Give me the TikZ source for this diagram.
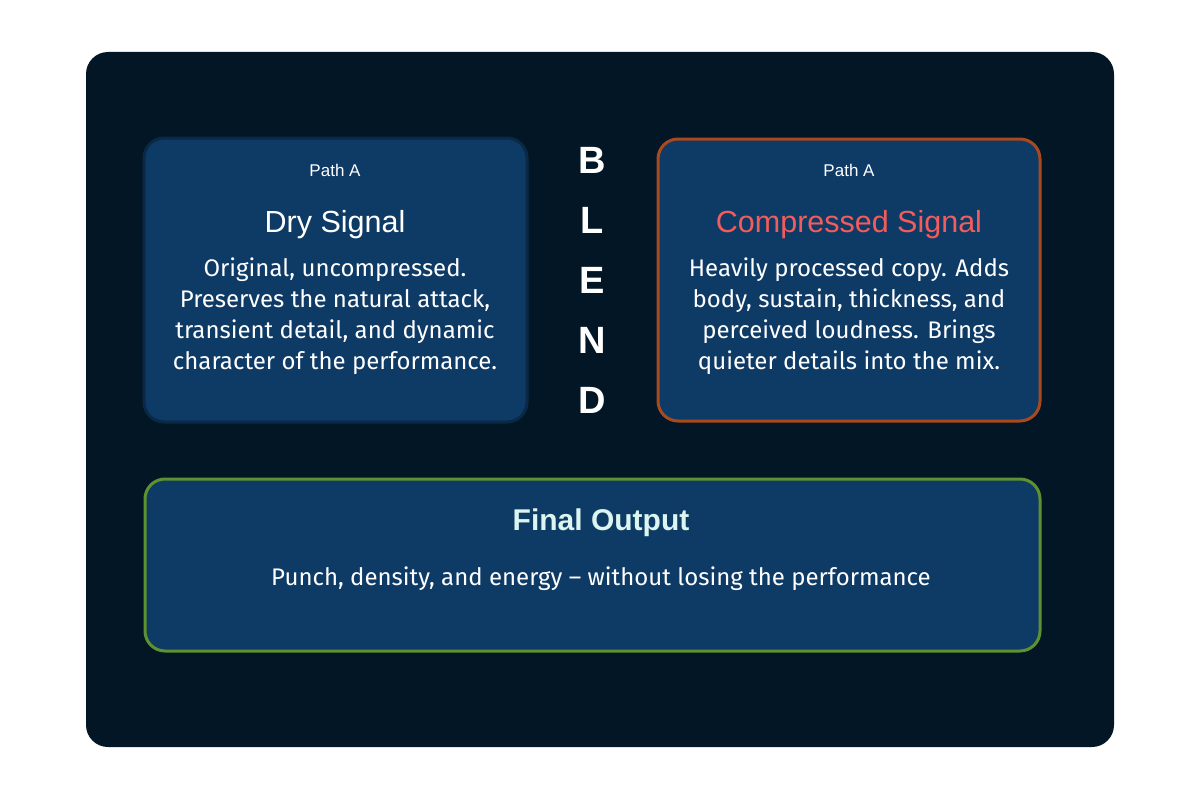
\documentclass[tikz,border=0pt]{standalone}
\usepackage{fontspec}
\setmainfont{Liberation Sans}
\newfontfamily\bodyfont{Fira Sans}
\definecolor{bgdark}{HTML}{021626}
\definecolor{boxfill}{HTML}{0E3A66}
\definecolor{orangeb}{HTML}{A8491E}
\definecolor{greenb}{HTML}{5E9230}
\definecolor{redt}{HTML}{F25C5C}
\definecolor{cyant}{HTML}{DDF5F0}
\begin{document}
\begin{tikzpicture}[x=1pt,y=-1pt,
  panel/.style={draw=#1,line width=3pt,fill=boxfill,rounded corners=20pt},
  small/.style={text=white,font=\fontsize{17}{19}\selectfont},
  body/.style={text=white,align=center,font=\bodyfont\fontsize{24}{31}\selectfont},
  blend/.style={text=white,font=\bfseries\fontsize{38}{40}\selectfont}]
\useasboundingbox (0,0) rectangle (1200,800);
\fill[white] (0,0) rectangle (1200,800);
\fill[bgdark,rounded corners=22pt] (86,52) rectangle (1114,747);
\draw[panel=boxfill!70!black] (144,138) rectangle (527,422);
\draw[panel=orangeb] (658,139) rectangle (1040,421);
\draw[panel=greenb] (145,479) rectangle (1040,651);
\node[small] (pa) at (335,170) {Path A};
\node[text=white,font=\fontsize{30.5}{32}\selectfont] (dt) at (335,225) {Dry Signal};
\node[body] (db) at (335,316) {Original, uncompressed.\\Preserves the natural attack,\\transient detail, and dynamic\\character of the performance.};
\node[small] (pb) at (849,170) {Path A};
\node[text=redt,font=\fontsize{30.5}{32}\selectfont] (ct) at (849,225) {Compressed Signal};
\node[body] (cb) at (849,316) {Heavily processed copy. Adds\\body, sustain, thickness, and\\perceived loudness. Brings\\quieter details into the mix.};
\node[blend] (b1) at (592,160) {B};
\node[blend] (b2) at (592,220) {L};
\node[blend] (b3) at (592,280) {E};
\node[blend] (b4) at (592,340) {N};
\node[blend] (b5) at (592,400) {D};
\node[text=cyant,font=\bfseries\fontsize{30}{32}\selectfont] (ft) at (601,523) {Final Output};
\node[body] (fb) at (601,579) {Punch, density, and energy – without losing the performance};
\end{tikzpicture}
\end{document}
